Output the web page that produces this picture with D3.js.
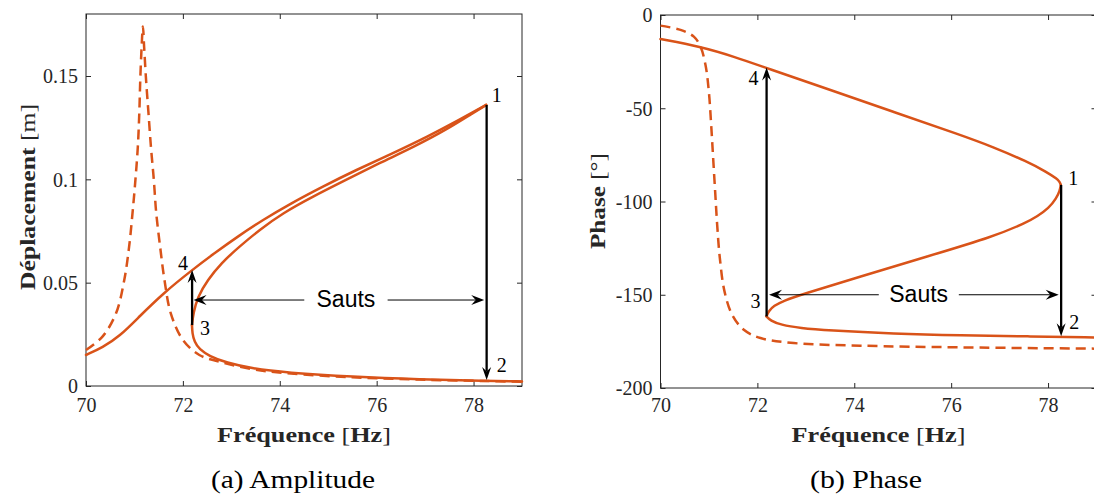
<!DOCTYPE html>
<html><head><meta charset="utf-8">
<script src="https://cdn.jsdelivr.net/npm/d3@7"></script>
<style>body{margin:0;background:#fff}svg{display:block}</style>
</head><body>
<svg id="chart" width="1094" height="495"></svg>
<script>
// ---------------- data ----------------
const freqTicks = [70, 72, 74, 76, 78];
const freqTickLabels = ["70", "72", "74", "76", "78"];
const ampTicks = [0, 0.05, 0.1, 0.15];
const ampTickLabels = ["0", "0.05", "0.1", "0.15"];
const phaseTicks = [0, -50, -100, -150, -200];
const phaseTickLabels = ["0", "-50", "-100", "-150", "-200"];

// (a) amplitude - linear response (dashed)
const linAmpFreq = [70.00, 70.34, 70.62, 70.79, 70.89, 70.96, 71.02, 71.07, 71.10, 71.12, 71.15, 71.175, 71.20, 71.24, 71.29, 71.34, 71.40, 71.45, 71.53, 71.62, 71.75, 72.00, 72.34, 72.75, 73.44, 74.13, 75.50, 76.88, 78.26, 79.00];
const linAmpVal  = [0.0174, 0.0239, 0.0352, 0.0513, 0.0674, 0.0836, 0.0997, 0.1158, 0.1320, 0.1481, 0.1650, 0.1740, 0.1640, 0.1481, 0.1320, 0.1158, 0.0997, 0.0836, 0.0674, 0.0513, 0.0352, 0.0223, 0.0150, 0.0118, 0.0081, 0.0062, 0.0042, 0.0031, 0.0024, 0.0021];
// (a) amplitude - nonlinear response (solid), three branches
const nlAmpUpperFreq = [70.000, 70.344, 70.688, 71.101, 71.596, 72.188, 72.649, 73.130, 73.646, 74.231, 74.885, 75.573, 76.330, 77.052, 77.706, 78.260];
const nlAmpUpperVal  = [0.0150, 0.0187, 0.0239, 0.0336, 0.0449, 0.0561, 0.0642, 0.0723, 0.0803, 0.0884, 0.0965, 0.1045, 0.1126, 0.1207, 0.1288, 0.1360];
const nlAmpMiddleFreq = [78.260, 77.981, 77.430, 76.777, 76.054, 75.366, 74.678, 74.059, 73.578, 73.165, 72.786, 72.511, 72.305, 72.215, 72.188];
const nlAmpMiddleVal  = [0.1360, 0.1320, 0.1239, 0.1158, 0.1078, 0.0997, 0.0916, 0.0836, 0.0755, 0.0674, 0.0594, 0.0513, 0.0432, 0.0352, 0.0295];
const nlAmpLowerFreq = [72.188, 72.195, 72.236, 72.340, 72.546, 72.890, 73.440, 74.128, 75.504, 76.880, 78.256, 79.000];
const nlAmpLowerVal  = [0.0295, 0.0255, 0.0215, 0.0177, 0.0145, 0.0113, 0.0084, 0.0065, 0.0044, 0.0032, 0.0025, 0.0022];

// (b) phase - linear response (dashed)
const linPhaseFreq = [70.000, 70.413, 70.688, 70.826, 70.929, 70.998, 71.046, 71.087, 71.128, 71.170, 71.225, 71.321, 71.479, 71.720, 72.064, 72.752, 74.128, 76.192, 79.000];
const linPhaseVal  = [-5.7, -8.0, -11.6, -17.0, -26.8, -41.1, -58.9, -76.8, -94.6, -112.5, -130.4, -148.2, -160.7, -168.8, -173.2, -175.9, -177.3, -178.2, -178.9];
// (b) phase - nonlinear response (solid), three branches
const nlPhaseUpperFreq = [70.000, 70.826, 71.514, 72.202, 73.440, 74.816, 76.192, 76.880, 77.568, 77.981, 78.187, 78.245, 78.263];
const nlPhaseUpperVal  = [-12.9, -17.0, -22.3, -28.6, -39.6, -52.0, -64.3, -70.9, -78.6, -84.3, -87.9, -89.6, -91.1];
const nlPhaseMiddleFreq = [78.263, 78.242, 78.173, 78.015, 77.774, 77.568, 76.880, 75.504, 74.128, 72.890, 72.546, 72.339, 72.229, 72.188];
const nlPhaseMiddleVal  = [-91.1, -94.3, -98.2, -103.6, -108.0, -111.1, -118.8, -129.5, -140.2, -150.0, -153.2, -155.9, -158.9, -161.6];
const nlPhaseLowerFreq = [72.188, 72.270, 72.477, 72.890, 73.440, 74.816, 76.192, 77.568, 79.000];
const nlPhaseLowerVal  = [-161.6, -163.9, -166.1, -167.9, -169.1, -170.9, -171.8, -172.3, -172.9];

// jumps (frequency, from value, to value)
const jumpDownFreq = 78.27;
const jumpUpFreq = 72.19;
const ampJumpDown = [0.1360, 0.0029];
const ampJumpUp = [0.0295, 0.0561];
const phaseJumpDown = [-91.1, -172.3];
const phaseJumpUp = [-161.6, -28.2];
const ampSautsLevel = 0.0416;
const phaseSautsLevel = -150;
const sautsLabel = "Sauts";
const pointLabels = ["1", "2", "3", "4"];

// ---------------- drawing ----------------
const ORANGE = "#D95319";
const AXIS = "#262626";
const SERIF = "'Liberation Serif', 'Times New Roman', serif";
const svg = d3.select("#chart");

function makePanel(cfg) {
  const g = svg.append("g");
  const x = d3.scaleLinear().domain([70, 79]).range(cfg.xr);
  const y = d3.scaleLinear().domain(cfg.yd).range(cfg.yr);
  const [x0, x1] = cfg.xr, [yb, yt] = cfg.yr;

  // ticks (inside, all four sides)
  const bottom = g.append("g").attr("transform", `translate(0,${yb})`)
    .call(d3.axisBottom(x).tickValues(freqTicks).tickSize(-5).tickPadding(0)
      .tickFormat((d, i) => freqTickLabels[i]));
  bottom.selectAll(".tick text").attr("y", 411.5 - yb).attr("dy", 0);
  const top = g.append("g").attr("transform", `translate(0,${yt})`)
    .call(d3.axisTop(x).tickValues(freqTicks).tickSize(-5).tickFormat(""));
  const left = g.append("g").attr("transform", `translate(${x0},0)`)
    .call(d3.axisLeft(y).tickValues(cfg.yTicks).tickSize(-5).tickPadding(8)
      .tickFormat((d, i) => cfg.yTickLabels[i]));
  left.selectAll(".tick text").attr("dy", "0.34em");
  const right = g.append("g").attr("transform", `translate(${x1},0)`)
    .call(d3.axisRight(y).tickValues(cfg.yTicks).tickSize(-5).tickFormat(""));
  [bottom, top, left, right].forEach(a => {
    a.select(".domain").remove();
    a.selectAll(".tick line").attr("stroke", AXIS).attr("stroke-width", 1);
    a.selectAll(".tick text").attr("font-family", SERIF).attr("font-size", 20).attr("fill", AXIS);
  });
  g.append("rect").attr("x", x0).attr("y", yt).attr("width", x1 - x0).attr("height", yb - yt)
    .attr("fill", "none").attr("stroke", AXIS).attr("stroke-width", 1);

  const dashLine = d3.line().x(d => x(d[0])).y(d => y(d[1])).curve(d3.curveCatmullRom.alpha(0.5));
  const solidLine = d3.line().x(d => x(d[0])).y(d => y(d[1])).curve(d3.curveBasis);
  g.append("path").datum(d3.zip(cfg.linF, cfg.linV)).attr("d", dashLine)
    .attr("fill", "none").attr("stroke", ORANGE).attr("stroke-width", 2.5).attr("stroke-dasharray", "10,6");
  cfg.branches.forEach(([f, v]) => {
    g.append("path").datum(d3.zip(f, v)).attr("d", solidLine)
      .attr("fill", "none").attr("stroke", ORANGE).attr("stroke-width", 2.5)
      .attr("stroke-linejoin", "round").attr("stroke-linecap", "round");
  });

  // arrows
  function arrow(xa, ya, xb, yb2, w, len, hw) {
    const dx = xb - xa, dy = yb2 - ya, L = Math.hypot(dx, dy);
    const ux = dx / L, uy = dy / L, px = -uy, py = ux;
    const notch = 4.5;
    g.append("line").attr("x1", xa).attr("y1", ya)
      .attr("x2", xb - ux * (len - notch)).attr("y2", yb2 - uy * (len - notch))
      .attr("stroke", "#000").attr("stroke-width", w);
    const bx = xb - ux * len, by = yb2 - uy * len;
    const p = [[xb, yb2], [bx + px * hw / 2, by + py * hw / 2],
      [xb - ux * (len - notch), yb2 - uy * (len - notch)], [bx - px * hw / 2, by - py * hw / 2]];
    g.append("path").attr("d", "M" + p.map(q => q.join(",")).join("L") + "Z").attr("fill", "#000");
  }
  arrow(x(jumpDownFreq), y(cfg.jumpDown[0]), x(jumpDownFreq), y(cfg.jumpDown[1]), 2.3, 13, 9);
  arrow(x(jumpUpFreq), y(cfg.jumpUp[0]), x(jumpUpFreq), y(cfg.jumpUp[1]), 2.3, 13, 9);
  const ys = y(cfg.sautsLevel);
  arrow(x(cfg.sautsGap[0]), ys, x(cfg.sautsTips[0]), ys, 1, 13, 10);
  arrow(x(cfg.sautsGap[1]), ys, x(cfg.sautsTips[1]), ys, 1, 13, 10);
  g.append("text").attr("x", x(cfg.sautsText)).attr("y", ys + cfg.sautsDy)
    .attr("text-anchor", "middle").attr("font-family", "'Liberation Sans', Arial, sans-serif")
    .attr("font-size", 23).attr("fill", "#000").text(sautsLabel);

  // point labels 1..4
  const anchors = [
    [jumpDownFreq, cfg.jumpDown[0]], [jumpDownFreq, cfg.jumpDown[1]],
    [jumpUpFreq, cfg.jumpUp[0]], [jumpUpFreq, cfg.jumpUp[1]]];
  anchors.forEach((a, i) => {
    g.append("text").attr("x", x(a[0]) + cfg.lblOff[i][0]).attr("y", y(a[1]) + cfg.lblOff[i][1] + 6.8)
      .attr("text-anchor", "middle").attr("font-family", SERIF).attr("font-size", 20)
      .attr("fill", "#000").text(pointLabels[i]);
  });

  // x label
  const xl = g.append("text").attr("x", (x0 + x1) / 2).attr("y", 442).attr("text-anchor", "middle")
    .attr("font-family", SERIF).attr("font-size", 21).attr("fill", AXIS)
    .attr("textLength", 174).attr("lengthAdjust", "spacingAndGlyphs");
  xl.append("tspan").attr("font-weight", "bold").text("Fréquence ");
  xl.append("tspan").text("[");
  xl.append("tspan").attr("font-weight", "bold").text("Hz");
  xl.append("tspan").text("]");

  // y label
  const yl = g.append("text").attr("transform", `translate(${cfg.ylX},${cfg.ylY}) rotate(-90)`)
    .attr("text-anchor", "middle").attr("font-family", SERIF).attr("font-size", 21).attr("fill", AXIS)
    .attr("textLength", cfg.ylLen).attr("lengthAdjust", "spacingAndGlyphs");
  yl.append("tspan").attr("font-weight", "bold").text(cfg.ylBold);
  yl.append("tspan").text(cfg.ylReg);

  // caption
  g.append("text").attr("x", cfg.capX).attr("y", 488).attr("text-anchor", "middle")
    .attr("font-family", SERIF).attr("font-size", 26).attr("fill", "#000")
    .attr("textLength", cfg.capLen).attr("lengthAdjust", "spacingAndGlyphs").text(cfg.caption);
}

makePanel({
  xr: [86, 522], yr: [386, 14], yd: [0, 0.18],
  yTicks: ampTicks, yTickLabels: ampTickLabels,
  linF: linAmpFreq, linV: linAmpVal,
  branches: [[nlAmpUpperFreq, nlAmpUpperVal], [nlAmpMiddleFreq, nlAmpMiddleVal], [nlAmpLowerFreq, nlAmpLowerVal]],
  jumpDown: ampJumpDown, jumpUp: ampJumpUp,
  sautsLevel: ampSautsLevel, sautsTips: [72.22, 78.22], sautsGap: [74.506, 76.226], sautsText: 75.366, sautsDy: 7,
  lblOff: [[10, -10], [15, -15], [13, 3], [-9, -7]],
  ylX: 35, ylY: 197, ylLen: 186, ylBold: "Déplacement ", ylReg: "[m]",
  capX: 293, capLen: 164, caption: "(a) Amplitude"
});

makePanel({
  xr: [660.5, 1096.5], yr: [388, 15], yd: [-200, 0],
  yTicks: phaseTicks, yTickLabels: phaseTickLabels,
  linF: linPhaseFreq, linV: linPhaseVal,
  branches: [[nlPhaseUpperFreq, nlPhaseUpperVal], [nlPhaseMiddleFreq, nlPhaseMiddleVal], [nlPhaseLowerFreq, nlPhaseLowerVal]],
  jumpDown: phaseJumpDown, jumpUp: phaseJumpUp,
  sautsLevel: phaseSautsLevel, sautsTips: [72.24, 78.22], sautsGap: [74.506, 76.158], sautsText: 75.33, sautsDy: 7.5,
  lblOff: [[12, -7], [13, -14], [-11, -15], [-13, 11]],
  ylX: 605, ylY: 201, ylLen: 96, ylBold: "Phase ", ylReg: "[°]",
  capX: 866, capLen: 112, caption: "(b) Phase"
});
</script>
</body></html>
